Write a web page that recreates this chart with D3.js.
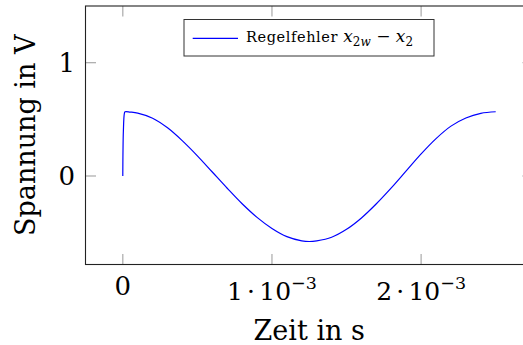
<!DOCTYPE html>
<html>
<head>
<meta charset="utf-8">
<script src="https://cdn.jsdelivr.net/npm/d3@7"></script>
<style>
  html, body { margin: 0; padding: 0; background: #fff; }
  svg { display: block; }
</style>
</head>
<body>
<svg id="chart" width="523" height="345" font-family="'DejaVu Serif', 'Liberation Serif', serif"></svg>
<script>
// Control error of the loop: time in seconds, voltage in volts
const timeS = [0, 0.000004, 0.0000107, 0.0000154, 0.00005,
  0.0001, 0.0002, 0.0003, 0.0004, 0.0005, 0.0006, 0.0007, 0.0008, 0.0009, 0.0010,
  0.0011, 0.0012, 0.00125, 0.0013, 0.0014, 0.0015, 0.0016, 0.0017, 0.0018, 0.0019,
  0.0020, 0.0021, 0.0022, 0.0023, 0.0024, 0.0025];
const errorV = [0, 0.40, 0.553, 0.567, 0.564,
  0.555, 0.510, 0.425, 0.310, 0.178, 0.035, -0.108, -0.245, -0.365, -0.463,
  -0.535, -0.572, -0.578, -0.572, -0.540, -0.470, -0.370, -0.245, -0.105, 0.045,
  0.195, 0.330, 0.440, 0.512, 0.553, 0.567];

const xTicks = [0, 0.001, 0.002];
const yTicks = [0, 1];
const xDomain = [-0.00025, 0.00275];
const yDomain = [-0.781, 1.5];

const seriesLabel = "Regelfehler";
const xTitle = "Zeit in s";
const yTitle = "Spannung in V";

const svg = d3.select("#chart");
const box = { left: 85.5, right: 533, top: 6, bottom: 264.5 };

const x = d3.scaleLinear().domain(xDomain).range([box.left, box.right]);
const y = d3.scaleLinear().domain(yDomain).range([box.bottom, box.top]);

// tick marks on all four sides, pointing inwards
const tickLen = 10.5;
const tickG = svg.append("g").attr("stroke", "#b0b0b0").attr("stroke-width", 1.3);
xTicks.forEach(t => {
  const px = x(t);
  tickG.append("line").attr("x1", px).attr("x2", px).attr("y1", box.bottom).attr("y2", box.bottom - tickLen);
  tickG.append("line").attr("x1", px).attr("x2", px).attr("y1", box.top).attr("y2", box.top + tickLen);
});
yTicks.forEach(v => {
  const py = y(v);
  tickG.append("line").attr("x1", box.left).attr("x2", box.left + tickLen).attr("y1", py).attr("y2", py);
  tickG.append("line").attr("x1", box.right).attr("x2", box.right - tickLen).attr("y1", py).attr("y2", py);
});

// the data curve
const line = d3.line()
  .x((d, i) => x(timeS[i]))
  .y(d => y(d))
  .curve(d3.curveCatmullRom.alpha(0.5));
svg.append("path")
  .datum(errorV)
  .attr("fill", "none")
  .attr("stroke", "#0000ff")
  .attr("stroke-width", 1.2)
  .attr("d", line);

// axis frame
svg.append("rect")
  .attr("x", box.left).attr("y", box.top)
  .attr("width", box.right - box.left).attr("height", box.bottom - box.top)
  .attr("fill", "none").attr("stroke", "#222").attr("stroke-width", 1.1);

// x tick labels: "0" and "n·10^-3"
xTicks.forEach(t => {
  const px = x(t);
  if (t === 0) {
    svg.append("text").attr("x", px).attr("y", 295)
      .attr("text-anchor", "middle").attr("font-size", 26).text("0");
  } else {
    const mant = d3.format(".0f")(t / 1e-3);
    const tx = svg.append("text").attr("x", px).attr("y", 300)
      .attr("text-anchor", "middle").attr("font-size", 25);
    tx.append("tspan").text(mant + "\u2006\u00B7\u200610");
    tx.append("tspan").attr("font-size", 17.5).attr("dy", -11).text("\u22123");
  }
});

// y tick labels
yTicks.forEach(v => {
  svg.append("text").attr("x", 75).attr("y", y(v))
    .attr("text-anchor", "end").attr("dominant-baseline", "central")
    .attr("font-size", 26).text(d3.format("d")(v));
});

// axis titles
svg.append("text")
  .attr("x", (box.left + box.right) / 2).attr("y", 340)
  .attr("text-anchor", "middle").attr("font-size", 27).text(xTitle);
svg.append("text")
  .attr("transform", `translate(35,${(box.top + box.bottom) / 2}) rotate(-90)`)
  .attr("text-anchor", "middle").attr("font-size", 27).text(yTitle);

// legend
const leg = svg.append("g");
leg.append("rect").attr("x", 184).attr("y", 19.5).attr("width", 250).attr("height", 36.5)
  .attr("fill", "#fff").attr("stroke", "#333").attr("stroke-width", 1);
leg.append("line").attr("x1", 192.7).attr("x2", 238).attr("y1", 38.3).attr("y2", 38.3)
  .attr("stroke", "#0000ff").attr("stroke-width", 1.2);
const lt = leg.append("text").attr("x", 246).attr("y", 42).attr("font-size", 14.5);
lt.append("tspan").attr("letter-spacing", 0.6).text(seriesLabel + " ");
lt.append("tspan").attr("font-style", "italic").attr("font-size", 17).text("x");
lt.append("tspan").attr("font-size", 12).attr("dy", 4).text("2");
lt.append("tspan").attr("font-size", 12).attr("font-style", "italic").text("w");
lt.append("tspan").attr("font-size", 17).attr("dy", -4).text(" \u2212 ");
lt.append("tspan").attr("font-style", "italic").attr("font-size", 17).text("x");
lt.append("tspan").attr("font-size", 12).attr("dy", 4).text("2");
</script>
</body>
</html>
